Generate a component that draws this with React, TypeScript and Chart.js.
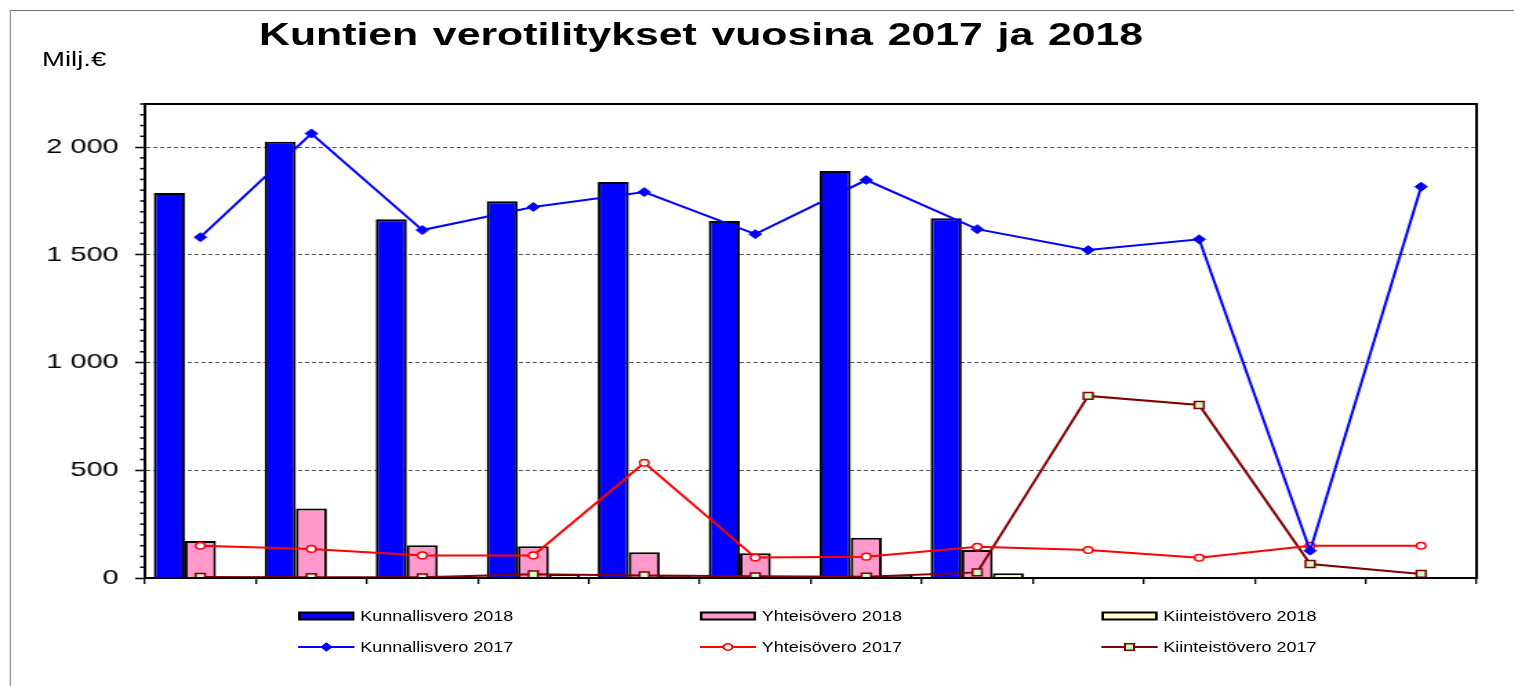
import React, { useEffect, useRef } from 'react';
import { Chart, registerables } from 'chart.js';

Chart.register(...registerables);

// ---------- data ----------
const categories = ['tammi', 'helmi', 'maalis', 'huhti', 'touko', 'kesä', 'heinä', 'elo', 'syys', 'loka', 'marras', 'joulu'];

const kunnallisvero2018 = [1787, 2025, 1665, 1749, 1838, 1657, 1889, 1670, null, null, null, null];
const yhteisovero2018 = [172, 323, 152, 147, 120, 115, 187, 130, null, null, null, null];
const kiinteistovero2018 = [4, 5, 4, 15, 10, 6, 10, 22, null, null, null, null];

const kunnallisvero2017 = [1582, 2063, 1615, 1722, 1791, 1596, 1847, 1619, 1522, 1572, 127, 1816];
const yhteisovero2017 = [150, 135, 105, 105, 535, 95, 99, 145, 130, 94, 150, 150];
const kiinteistovero2017 = [5, 4, 3, 17, 12, 8, 6, 26, 845, 803, 65, 19];

const seriesLabels = [
  'Kunnallisvero 2018',
  'Yhteisövero 2018',
  'Kiinteistövero 2018',
  'Kunnallisvero 2017',
  'Yhteisövero 2017',
  'Kiinteistövero 2017',
];

const yTickValues = [0, 500, 1000, 1500, 2000];
const yTickLabels = ['0', '500', '1 000', '1 500', '2 000'];

const titleText = 'Kuntien verotilitykset vuosina 2017 ja 2018';
const unitText = 'Milj.€';

// ---------- layout / style ----------
const S = 1.38; // horizontal stretch of the whole picture
const W = Math.round(1514 / S);
const H = 686;
const FONT = "'Liberation Sans', Arial, Helvetica, sans-serif";

const colors = {
  blue: '#0000FF',
  pink: '#FF99CC',
  yellow: '#FFFFCC',
  red: '#FF0000',
  brown: '#800000',
  green: '#CCFFCC',
};

const frameAndMinorTicks = {
  id: 'frameAndMinorTicks',
  afterDraw(chart: any) {
    const { ctx, chartArea } = chart;
    const y = chart.scales.y;
    ctx.save();
    ctx.strokeStyle = '#000';
    ctx.lineWidth = 1.5;
    for (let v = 50; v <= y.max; v += 50) {
      if (v % 500 === 0) continue;
      const py = y.getPixelForValue(v);
      ctx.beginPath();
      ctx.moveTo(chartArea.left - 3.5, py);
      ctx.lineTo(chartArea.left, py);
      ctx.stroke();
    }
    ctx.lineWidth = 2;
    ctx.strokeRect(chartArea.left, chartArea.top, chartArea.right - chartArea.left, chartArea.bottom - chartArea.top);
    ctx.restore();
  },
};

type LegendItem = { label: string; kind: 'bar' | 'line'; fill: string; stroke: string; marker?: 'diamond' | 'circle' | 'square'; markerFill?: string };

const legendItems: LegendItem[] = [
  { label: seriesLabels[0], kind: 'bar', fill: colors.blue, stroke: '#000' },
  { label: seriesLabels[1], kind: 'bar', fill: colors.pink, stroke: '#000' },
  { label: seriesLabels[2], kind: 'bar', fill: colors.yellow, stroke: '#000' },
  { label: seriesLabels[3], kind: 'line', fill: colors.blue, stroke: colors.blue, marker: 'diamond', markerFill: colors.blue },
  { label: seriesLabels[4], kind: 'line', fill: '#fff', stroke: colors.red, marker: 'circle', markerFill: '#fff' },
  { label: seriesLabels[5], kind: 'line', fill: colors.green, stroke: colors.brown, marker: 'square', markerFill: colors.green },
];

const legendCols = [216, 506.5, 798];
const legendRows = [616, 647];

function Symbol({ item }: { item: LegendItem }) {
  const w = 41;
  const h = 14;
  if (item.kind === 'bar') {
    return (
      <svg width={w} height={h} style={{ display: 'block' }}>
        <rect x={1} y={3.5} width={w - 2} height={7} fill={item.fill} stroke={item.stroke} strokeWidth={2} />
      </svg>
    );
  }
  const cx = w / 2;
  const cy = h / 2;
  let marker: any = null;
  if (item.marker === 'diamond') {
    marker = <polygon points={`${cx - 3.8},${cy} ${cx},${cy - 4} ${cx + 3.8},${cy} ${cx},${cy + 4}`} fill={item.markerFill} stroke={item.stroke} strokeWidth={1} />;
  } else if (item.marker === 'circle') {
    marker = <circle cx={cx} cy={cy} r={3.2} fill={item.markerFill} stroke={item.stroke} strokeWidth={1.5} />;
  } else if (item.marker === 'square') {
    marker = <rect x={cx - 3.3} y={cy - 3.3} width={6.6} height={6.6} fill={item.markerFill} stroke={item.stroke} strokeWidth={1.5} />;
  }
  return (
    <svg width={w} height={h} style={{ display: 'block' }}>
      <line x1={0} y1={cy} x2={w} y2={cy} stroke={item.stroke} strokeWidth={2} />
      {marker}
    </svg>
  );
}

export default function App() {
  const canvasRef = useRef<HTMLCanvasElement | null>(null);

  useEffect(() => {
    const canvas = canvasRef.current;
    if (!canvas) return;
    const barCommon = { categoryPercentage: 0.84, barPercentage: 1.0, borderColor: '#000', borderWidth: 2, order: 1 };
    const lineCommon = { type: 'line' as const, borderWidth: 2, tension: 0, fill: false, order: 0 };
    const chart = new Chart(canvas, {
      type: 'bar',
      data: {
        labels: categories,
        datasets: [
          { ...barCommon, label: seriesLabels[0], data: kunnallisvero2018, backgroundColor: colors.blue },
          { ...barCommon, label: seriesLabels[1], data: yhteisovero2018, backgroundColor: colors.pink },
          { ...barCommon, label: seriesLabels[2], data: kiinteistovero2018, backgroundColor: colors.yellow },
          {
            ...lineCommon, label: seriesLabels[3], data: kunnallisvero2017, borderColor: colors.blue,
            pointStyle: 'rectRot', pointRadius: 4.5, pointBackgroundColor: colors.blue, pointBorderColor: colors.blue, pointBorderWidth: 1,
          },
          {
            ...lineCommon, label: seriesLabels[4], data: yhteisovero2017, borderColor: colors.red,
            pointStyle: 'circle', pointRadius: 3.3, pointBackgroundColor: '#fff', pointBorderColor: colors.red, pointBorderWidth: 1.5,
          },
          {
            ...lineCommon, label: seriesLabels[5], data: kiinteistovero2017, borderColor: colors.brown,
            pointStyle: 'rect', pointRadius: 4.8, pointBackgroundColor: colors.green, pointBorderColor: colors.brown, pointBorderWidth: 1.5,
          },
        ] as any,
      },
      options: {
        animation: false,
        responsive: false,
        maintainAspectRatio: false,
        events: [],
        layout: { padding: { top: 104, right: W - Math.round(1476 / S), left: 0, bottom: 0 } },
        plugins: {
          legend: { display: false },
          title: { display: false },
          tooltip: { enabled: false },
        },
        scales: {
          x: {
            type: 'category',
            offset: true,
            grid: { display: true, offset: true, drawOnChartArea: false, drawTicks: true, tickLength: 6, color: '#000', lineWidth: 1.3 },
            border: { display: true, color: '#000', width: 2 },
            ticks: { display: false },
            afterFit: (s: any) => { s.height = H - 578; },
          },
          y: {
            type: 'linear',
            min: 0,
            max: 2200,
            afterBuildTicks: (s: any) => { s.ticks = yTickValues.map((v) => ({ value: v })); },
            ticks: {
              color: '#000',
              padding: 12,
              autoSkip: false,
              font: { family: FONT, size: 21 },
              callback: (v: any) => {
                const i = yTickValues.indexOf(Number(v));
                return i >= 0 ? yTickLabels[i] : '';
              },
            },
            grid: { display: true, color: '#555', lineWidth: 1, drawTicks: true, tickLength: 7, tickColor: '#000', tickWidth: 1.5 },
            border: { display: true, color: '#000', width: 2, dash: [3, 2] },
            afterFit: (s: any) => { s.width = Math.round(145 / S); },
          },
        },
      } as any,
      plugins: [frameAndMinorTicks],
    });
    return () => chart.destroy();
  }, []);

  return (
    <div
      style={{
        position: 'absolute', left: 0, top: 0, width: W, height: H,
        transform: `scaleX(${S})`, transformOrigin: '0 0', background: '#fff', overflow: 'hidden',
      }}
    >
      <canvas ref={canvasRef} width={W} height={H} style={{ position: 'absolute', left: 0, top: 0, width: W, height: H, display: 'block' }} />
      <div style={{ position: 'absolute', left: 6.5, top: 10, width: W, height: H, borderTop: '1px solid #777', borderLeft: '1px solid #999', pointerEvents: 'none' }} />
      <div
        style={{
          position: 'absolute', left: 508 - 400, width: 800, top: 19, textAlign: 'center',
          fontFamily: FONT, fontWeight: 'bold', fontSize: 31, lineHeight: '31px', wordSpacing: 2, color: '#000', whiteSpace: 'nowrap',
        }}
      >
        {titleText}
      </div>
      <div style={{ position: 'absolute', left: 30.4, top: 49, fontFamily: FONT, fontSize: 20, lineHeight: '20px', color: '#000', whiteSpace: 'nowrap' }}>
        {unitText}
      </div>
      {legendItems.map((item, i) => {
        const col = i % 3;
        const row = Math.floor(i / 3);
        return (
          <div
            key={item.label}
            style={{ position: 'absolute', left: legendCols[col], top: legendRows[row] - 10, height: 20, display: 'flex', alignItems: 'center', whiteSpace: 'nowrap' }}
          >
            <Symbol item={item} />
            <span
              style={{
                display: 'inline-block', marginLeft: 4, fontFamily: FONT, fontSize: 15, lineHeight: '20px', color: '#000',
                transform: 'scaleX(0.87)', transformOrigin: '0 50%',
              }}
            >
              {item.label}
            </span>
          </div>
        );
      })}
    </div>
  );
}
